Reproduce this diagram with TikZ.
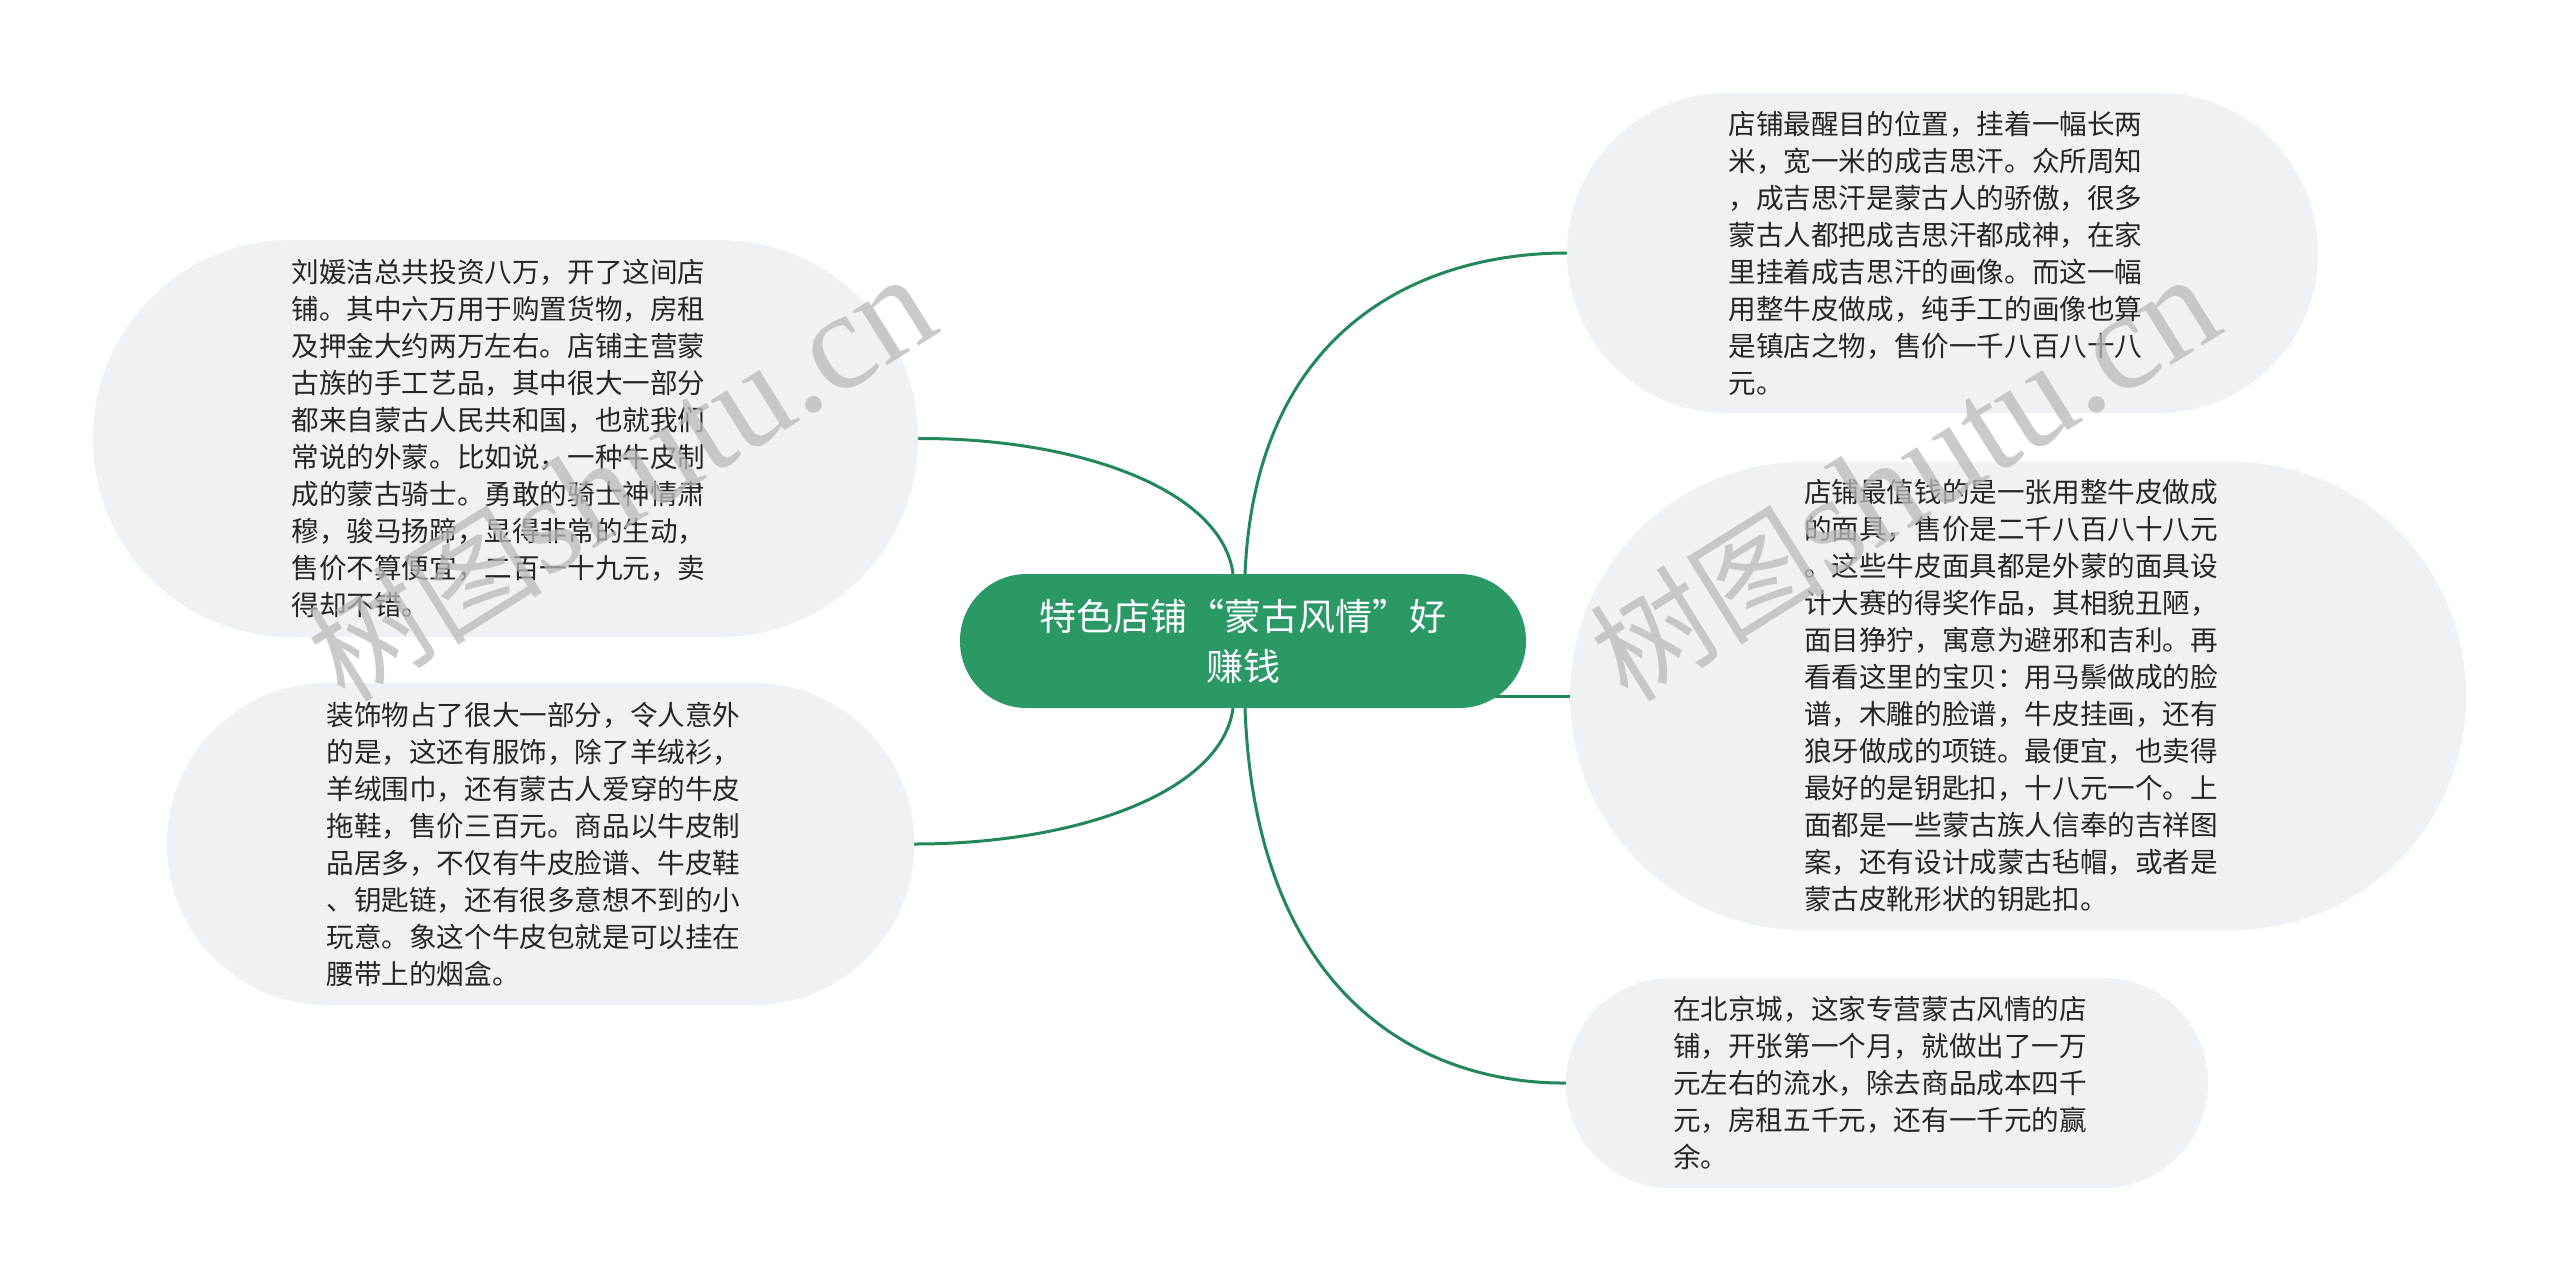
\documentclass[tikz,border=0pt]{standalone}
\usepackage{fontspec}
\setmainfont{Noto Sans CJK SC}
\newfontfamily\titlefont[RawFeature=+fwid]{Noto Sans CJK SC}
\newfontfamily\wmcjk{Noto Sans CJK SC}
\newfontfamily\wmlat{Liberation Serif}
\definecolor{leafbg}{RGB}{239,242,245}
\definecolor{maingreen}{RGB}{42,153,102}
\definecolor{conncol}{RGB}{36,135,90}
\definecolor{txtcol}{RGB}{38,38,38}
\definecolor{wmgray}{RGB}{185,185,185}
\pgfdeclarelayer{bg}
\pgfsetlayers{bg,main}
\tikzset{
  leaf/.style={fill=leafbg, draw=none, rounded corners=#1, inner sep=0pt,
    align=left, text width=428pt, text=txtcol,
    font=\fontsize{27.6}{37}\selectfont},
  rootnode/.style={fill=maingreen, draw=none, rounded corners=66.5pt, inner sep=0pt,
    minimum width=566pt, minimum height=134pt, text=white, align=center,
    font=\titlefont\fontsize{37}{50}\selectfont},
  conn/.style={draw=conncol, line width=3pt},
  wmark/.style={rotate=32, anchor=base west, inner sep=0pt, text=wmgray, text opacity=0.75}
}
\begin{document}
\begin{tikzpicture}[x=1pt,y=-1pt]
\useasboundingbox (0,0) rectangle (2560,1283);

\node[rootnode] (cen) at (1243,641) {特色店铺“蒙古风情”好\\赚钱};

\node[leaf=198pt, minimum width=825pt, minimum height=397pt] (lt) at (505.5,438.5) {刘媛洁总共投资八万，开了这间店\\铺。其中六万用于购置货物，房租\\及押金大约两万左右。店铺主营蒙\\古族的手工艺品，其中很大一部分\\都来自蒙古人民共和国，也就我们\\常说的外蒙。比如说，一种牛皮制\\成的蒙古骑士。勇敢的骑士神情肃\\穆，骏马扬蹄，显得非常的生动，\\售价不算便宜，二百一十九元，卖\\得却不错。};

\node[leaf=160pt, minimum width=747pt, minimum height=322pt] (lb) at (540.5,844) {装饰物占了很大一部分，令人意外\\的是，这还有服饰，除了羊绒衫，\\羊绒围巾，还有蒙古人爱穿的牛皮\\拖鞋，售价三百元。商品以牛皮制\\品居多，不仅有牛皮脸谱、牛皮鞋\\、钥匙链，还有很多意想不到的小\\玩意。象这个牛皮包就是可以挂在\\腰带上的烟盒。};

\node[leaf=159.5pt, minimum width=751pt, minimum height=320pt] (tr) at (1942.5,253) {店铺最醒目的位置，挂着一幅长两\\米，宽一米的成吉思汗。众所周知\\，成吉思汗是蒙古人的骄傲，很多\\蒙古人都把成吉思汗都成神，在家\\里挂着成吉思汗的画像。而这一幅\\用整牛皮做成，纯手工的画像也算\\是镇店之物，售价一千八百八十八\\元。};

\node[leaf=233.5pt, minimum width=896pt, minimum height=468pt] (rm) at (2018,696) {店铺最值钱的是一张用整牛皮做成\\的面具，售价是二千八百八十八元\\。这些牛皮面具都是外蒙的面具设\\计大赛的得奖作品，其相貌丑陋，\\面目狰狞，寓意为避邪和吉利。再\\看看这里的宝贝：用马鬃做成的脸\\谱，木雕的脸谱，牛皮挂画，还有\\狼牙做成的项链。最便宜，也卖得\\最好的是钥匙扣，十八元一个。上\\面都是一些蒙古族人信奉的吉祥图\\案，还有设计成蒙古毡帽，或者是\\蒙古皮靴形状的钥匙扣。};

\node[leaf=104.5pt, minimum width=642pt, minimum height=210pt] (br) at (1887,1083) {在北京城，这家专营蒙古风情的店\\铺，开张第一个月，就做出了一万\\元左右的流水，除去商品成本四千\\元，房租五千元，还有一千元的赢\\余。};

\coordinate (cm) at (cen.center |- rm.west);

\begin{pgfonlayer}{bg}
\fill[white] (0,0) rectangle (2560,1283);
\draw[conn] ([xshift=-10pt]cen.north) .. controls (1222,490) and (1080,438) .. (lt.east);
\draw[conn] ([xshift=2pt]cen.north) .. controls (1256,320) and (1430,253) .. (tr.west);
\draw[conn] ([xshift=-10pt]cen.south) .. controls (1222,791) and (1080,844) .. (lb.east);
\draw[conn] ([xshift=2pt]cen.south) .. controls (1256,1005) and (1430,1084) .. (br.west);
\draw[conn] (cm) -- (rm.west);
\end{pgfonlayer}

\node[wmark] (wm1) at (345,705) {{\wmcjk\fontsize{118}{118}\selectfont 树图}{\wmlat\fontsize{140}{140}\selectfont shutu.cn}};
\node[wmark] (wm2) at (1628,705) {{\wmcjk\fontsize{118}{118}\selectfont 树图}{\wmlat\fontsize{140}{140}\selectfont shutu.cn}};
\end{tikzpicture}
\end{document}
